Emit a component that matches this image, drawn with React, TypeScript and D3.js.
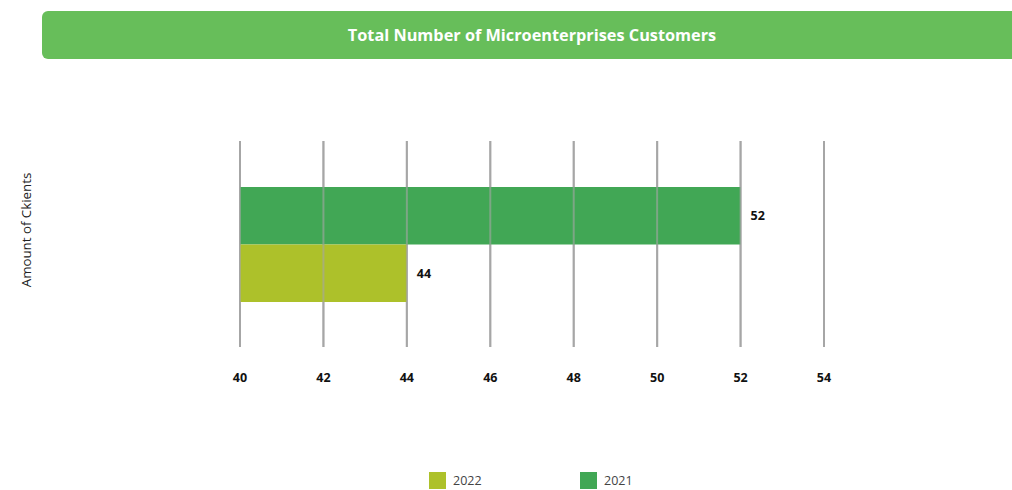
import React from "react";
import * as d3 from "d3";

const seriesNames = ["2021", "2022"];
const seriesValues = [52, 44];
const seriesColors = ["#41a755", "#adc12a"];
const legendOrder = ["2022", "2021"];
const xTicks = [40, 42, 44, 46, 48, 50, 52, 54];
const titleText = "Total Number of Microenterprises Customers";
const yAxisTitle = "Amount of Ckients";

export default function App() {
  const W = 1012, H = 490;
  const x = d3.scaleLinear().domain([40, 54]).range([240, 824]);
  const y = d3.scaleBand().domain(seriesNames).range([187, 302]).padding(0);
  const gridTop = 141, gridBottom = 347;
  const font = "'Open Sans', 'Noto Sans', sans-serif";
  const colorOf = (n: string) => seriesColors[seriesNames.indexOf(n)];
  return (
    <svg width={W} height={H} style={{ position: "absolute", left: 0, top: 0, display: "block" }} fontFamily={font}>
      <rect x={42} y={11} width={990} height={48} rx={6} fill="#67be5a" />
      <text x={532} y={41} textAnchor="middle" fill="#fff" fontWeight="bold" fontSize={16.3}>{titleText}</text>
      {xTicks.map(t => (
        <line key={t} x1={x(t)} x2={x(t)} y1={gridTop} y2={gridBottom} stroke="#a6a6a6" strokeWidth={2} />
      ))}
      {seriesNames.map((n, i) => (
        <g key={n}>
          <rect x={x(40)} y={y(n)!} width={x(seriesValues[i]) - x(40)} height={y.bandwidth()} fill={seriesColors[i]} />
          <text x={x(seriesValues[i]) + 10} y={y(n)! + y.bandwidth() / 2 + 4.5} fontSize={12.5} fontWeight="bold" fill="#111">{seriesValues[i]}</text>
        </g>
      ))}
      {xTicks.map(t => (
        <line key={"o" + t} x1={x(t)} x2={x(t)} y1={gridTop} y2={gridBottom} stroke="#a6a6a6" strokeWidth={2} opacity={0.6} />
      ))}
      {xTicks.map(t => (
        <text key={"t" + t} x={x(t)} y={382} textAnchor="middle" fontSize={12.5} fontWeight="bold" fill="#111">{t}</text>
      ))}
      <text transform="translate(31,230) rotate(-90)" textAnchor="middle" fontSize={13.3} fill="#222">{yAxisTitle}</text>
      {legendOrder.map((n, i) => (
        <g key={n} transform={`translate(${429 + i * 151},472)`}>
          <rect x={0} y={0} width={17} height={17} fill={colorOf(n)} />
          <text x={24} y={13} fontSize={12.5} fill="#444">{n}</text>
        </g>
      ))}
    </svg>
  );
}
